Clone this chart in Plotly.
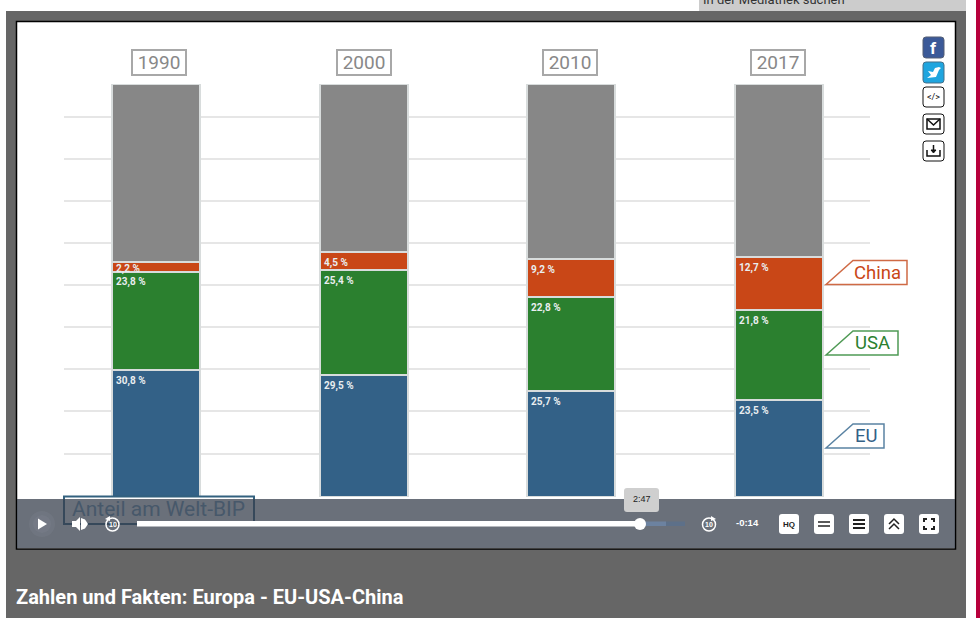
import plotly.graph_objects as go

years = ["1990", "2000", "2010", "2017"]
eu = [30.8, 29.5, 25.7, 23.5]
usa = [23.8, 25.4, 22.8, 21.8]
china = [2.2, 4.5, 9.2, 12.7]
rest = [43.2, 40.6, 42.3, 42.0]
grid_levels = [10.4, 20.8, 31.0, 41.2, 51.3, 61.5, 71.7, 81.8, 92.0]
series_names = ["EU", "USA", "China", "Rest"]
series_colors = ["#336187", "#2b802f", "#c94717", "#878787"]
title_text = "Zahlen und Fakten: Europa - EU-USA-China"
axis_caption = "Anteil am Welt-BIP"

W, H = 980, 618
FONT = "Roboto"
BAR_W = 0.424


def X(x):
    return x / W


def Y(y):
    return 1 - y / H


def rect(x0, y0, x1, y1, fill=None, line=None, lw=0, layer="above", opacity=1):
    return dict(type="rect", xref="paper", yref="paper", x0=X(x0), x1=X(x1), y0=Y(y0), y1=Y(y1),
                fillcolor=fill or "rgba(0,0,0,0)", line=dict(color=line or "rgba(0,0,0,0)", width=lw),
                layer=layer, opacity=opacity)


def poly(pts, fill=None, line=None, lw=0, layer="above", close=True):
    d = "M" + " L".join(f"{X(a):.5f},{Y(b):.5f}" for a, b in pts) + (" Z" if close else "")
    return dict(type="path", xref="paper", yref="paper", path=d, layer=layer,
                fillcolor=fill or "rgba(0,0,0,0)", line=dict(color=line or "rgba(0,0,0,0)", width=lw))


def rrect(x0, y0, x1, y1, r=3, fill=None, line=None, lw=0):
    def p(a, b):
        return f"{X(a):.5f},{Y(b):.5f}"
    d = (f"M{p(x0 + r, y0)} L{p(x1 - r, y0)} Q{p(x1, y0)} {p(x1, y0 + r)} L{p(x1, y1 - r)} "
         f"Q{p(x1, y1)} {p(x1 - r, y1)} L{p(x0 + r, y1)} Q{p(x0, y1)} {p(x0, y1 - r)} "
         f"L{p(x0, y0 + r)} Q{p(x0, y0)} {p(x0 + r, y0)} Z")
    return dict(type="path", xref="paper", yref="paper", path=d, layer="above",
                fillcolor=fill or "rgba(0,0,0,0)", line=dict(color=line or "rgba(0,0,0,0)", width=lw))


def circle(cx, cy, r, fill=None, line=None, lw=0, opacity=1):
    return dict(type="circle", xref="paper", yref="paper", x0=X(cx - r), x1=X(cx + r), y0=Y(cy + r), y1=Y(cy - r),
                fillcolor=fill or "rgba(0,0,0,0)", line=dict(color=line or "rgba(0,0,0,0)", width=lw),
                layer="above", opacity=opacity)


def text(x, y, s, size, color, anchor="center", family=FONT, bold=False):
    return dict(xref="paper", yref="paper", x=X(x), y=Y(y), text=f"<b>{s}</b>" if bold else s,
                showarrow=False, xanchor=anchor, yanchor="middle",
                font=dict(family=family, size=size, color=color))


fig = go.Figure()
for name, vals, col in zip(series_names, [eu, usa, china, rest], series_colors):
    fig.add_bar(x=[0, 1, 2, 3], y=vals, name=name, width=BAR_W, marker=dict(color=col, line=dict(color="#d8dcdc", width=2)))

shapes = [
    # page
    rect(6, 11, 966, 618, fill="#666666", layer="below"),
    rect(976, 0, 980, 618, fill="#b8003c", layer="below"),
    rect(699, 0, 966, 11, fill="#cccccc", layer="below"),
    rect(16.5, 21.5, 955.5, 549, fill="#ffffff", line="#000000", lw=1.5, layer="below"),
    # caption box, seen through the player bar
    rect(64, 496.5, 254, 524, line="#33617f", lw=2, layer="above"),
    # player bar
    rect(17, 499, 955, 548, fill="rgb(56,64,77)", opacity=0.75),
    # series tags
    poly([(826, 284.5), (853, 260.5), (907, 260.5), (907, 284.5)], fill="#ffffff", line="#cf6a45", lw=1.5),
    poly([(826, 355), (853, 331), (898, 331), (898, 355)], fill="#ffffff", line="#4f9a55", lw=1.5),
    poly([(826, 448), (853, 424), (884, 424), (884, 448)], fill="#ffffff", line="#5a83a3", lw=1.5),
    # share buttons
    rrect(923, 37, 944, 58, fill="#3b5998", line="#555f75", lw=1),
    rrect(923, 62, 944, 83, fill="#1fa5df", line="#45708a", lw=1),
    rrect(923, 87, 944, 107, fill="#ffffff", line="#111111", lw=1),
    rrect(923, 114, 944, 134, fill="#ffffff", line="#111111", lw=1),
    rrect(923, 141, 944, 161, fill="#ffffff", line="#111111", lw=1),
    rect(927, 119, 940, 129, line="#111111", lw=1.5),
    poly([(927, 119), (933.5, 125), (940, 119)], line="#111111", lw=1.5, close=False),
    poly([(927, 150), (927, 156), (940, 156), (940, 150)], line="#111111", lw=1.5, close=False),
    poly([(933.5, 145), (933.5, 152)], line="#111111", lw=1.5, close=False),
    poly([(931, 150), (933.5, 153), (936, 150)], fill="#111111", line="#111111", lw=1),
    poly([(939, 67), (941, 68), (939, 70), (936, 77), (927, 78), (931, 75), (928, 71), (933, 72), (935, 68)], fill="#ffffff"),
    # player controls
    circle(42, 524, 13, fill="#8a9099", opacity=0.18),
    circle(42, 524, 9, fill="#8a9099", opacity=0.18),
    poly([(38, 518.5), (47, 524), (38, 529.5)], fill="#ffffff"),
    poly([(72, 521), (76, 521), (80, 517), (80, 531), (76, 527), (72, 527)], fill="#ffffff"),
    poly([(81, 518), (85, 519.5), (88, 524), (85, 528.5), (81, 530)], fill="#ffffff"),
    circle(112.5, 524.5, 6.5, line="#ffffff", lw=1.5),
    poly([(105, 519), (110, 516), (110, 521)], fill="#ffffff"),
    rect(137, 521, 640, 526.5, fill="#ffffff"),
    rect(640, 521.5, 666, 526, fill="#6c82a0"),
    rect(666, 521.5, 685, 526, fill="#5d7089"),
    circle(640, 524, 6, fill="#ffffff"),
    rrect(624, 488, 659, 512, r=3, fill="#cfcfcf"),
    circle(709, 524.5, 6.5, line="#ffffff", lw=1.5),
    poly([(716, 519), (711, 516), (711, 521)], fill="#ffffff"),
    rrect(779, 514, 799, 534, fill="#ffffff"),
    rrect(814, 514, 834, 534, fill="#ffffff"),
    rrect(849, 514, 869, 534, fill="#ffffff"),
    rrect(884, 514, 904, 534, fill="#ffffff"),
    rrect(919, 514, 939, 534, fill="#ffffff"),
    poly([(818, 522), (830, 522)], line="#222222", lw=1.5, close=False),
    poly([(818, 526), (830, 526)], line="#222222", lw=1.5, close=False),
    poly([(853, 520), (865, 520)], line="#222222", lw=2, close=False),
    poly([(853, 524), (865, 524)], line="#222222", lw=2, close=False),
    poly([(853, 528), (865, 528)], line="#222222", lw=2, close=False),
    poly([(889, 524), (894, 519), (899, 524)], line="#222222", lw=1.5, close=False),
    poly([(889, 529), (894, 524), (899, 529)], line="#222222", lw=1.5, close=False),
    poly([(924, 522), (924, 519), (927, 519)], line="#222222", lw=2, close=False),
    poly([(931, 519), (934, 519), (934, 522)], line="#222222", lw=2, close=False),
    poly([(934, 526), (934, 529), (931, 529)], line="#222222", lw=2, close=False),
    poly([(927, 529), (924, 529), (924, 526)], line="#222222", lw=2, close=False),
]

annotations = [
    text(14, 597, title_text, 20, "#ffffff", anchor="left", bold=True),
    text(158, 509, axis_caption, 21, "#47586a"),
    text(701, -1, "In der Mediathek suchen", 13, "#333333", anchor="left"),
    text(877.5, 272.5, "China", 18.5, "#c94717"),
    text(872, 343, "USA", 18.5, "#2b802f"),
    text(866, 436, "EU", 18.5, "#336187"),
    text(933.5, 47.5, "f", 17, "#ffffff", bold=True),
    text(933.5, 97, "&lt;/&gt;", 9, "#111111"),
    text(641.5, 498.5, "2:47", 9, "#222222", family="Liberation Sans"),
    text(747, 522.5, "-0:14", 9.5, "#ffffff", family="Liberation Sans", bold=True),
    text(789, 524.5, "HQ", 8, "#222222", family="Liberation Sans", bold=True),
    text(112.5, 524.5, "10", 7, "#ffffff", family="Liberation Sans", bold=True),
    text(709, 524.5, "10", 7, "#ffffff", family="Liberation Sans", bold=True),
]

for i, yr in enumerate(years):
    annotations.append(dict(xref="x", yref="paper", x=i, y=Y(63), text=yr, showarrow=False,
                            xanchor="center", yanchor="middle", xshift=3 if i == 0 else (0 if i == 1 else -1),
                            font=dict(family=FONT, size=19, color="#888888"),
                            bordercolor="#a8a8a8", borderwidth=2, borderpad=1, bgcolor="#ffffff", width=50, height=21))
    base = 0
    for vals in (eu, usa, china):
        v = vals[i]
        base += v
        annotations.append(dict(xref="x", yref="y", x=i - BAR_W / 2, y=base, xanchor="left", yanchor="top",
                                text="<b>" + f"{v:.1f} %".replace(".", ",") + "</b>", showarrow=False,
                                xshift=2, yshift=1 if v < 3 else -3,
                                font=dict(family=FONT, size=10, color="#e9eef0")))

fig.update_layout(
    width=W, height=H, autosize=False, barmode="stack", bargap=0,
    margin=dict(l=0, r=0, t=0, b=0), showlegend=False,
    paper_bgcolor="#ffffff", plot_bgcolor="rgba(0,0,0,0)",
    xaxis=dict(domain=[64 / W, 870 / W], range=[-0.443, 3.438], visible=False, fixedrange=True),
    yaxis=dict(domain=[Y(497), Y(84)], range=[0, 100], tickmode="array", tickvals=grid_levels,
               showticklabels=False, ticks="", showline=False, zeroline=False,
               gridcolor="#e6e6e6", gridwidth=2, fixedrange=True),
    shapes=shapes, annotations=annotations,
)
fig.write_html("out.html", config=dict(displayModeBar=False),
               post_script="document.body.style.margin='0';document.body.style.overflow='hidden';")
